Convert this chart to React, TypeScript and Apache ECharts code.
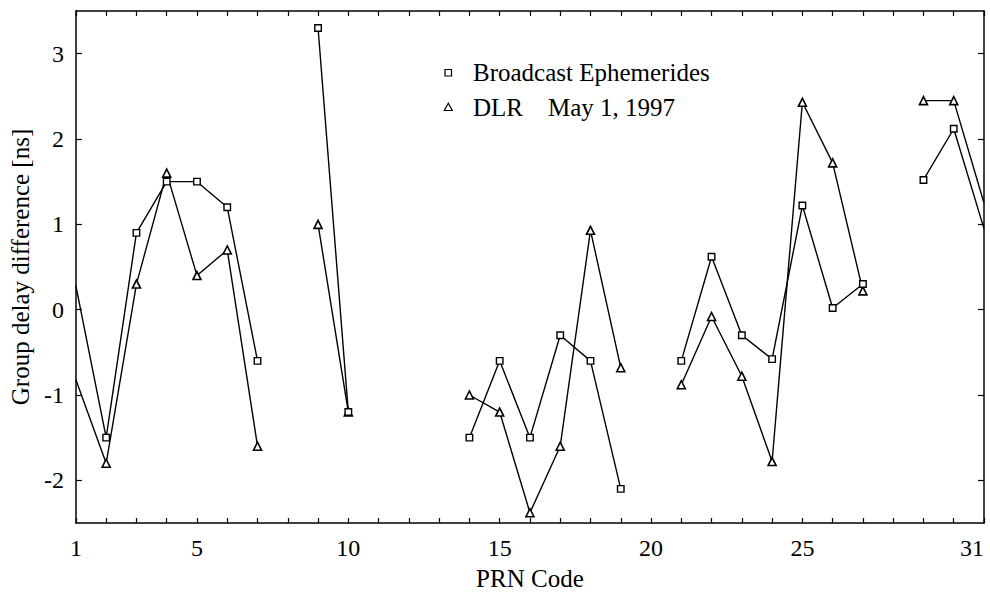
import React, { useEffect, useRef } from "react";
import * as echarts from "echarts";

const FONT = "Liberation Serif, Times New Roman, Times, serif";

// PRN codes 1..31
const prnCodes = [
  1, 2, 3, 4, 5, 6, 7, 8, 9, 10, 11, 12, 13, 14, 15, 16, 17, 18, 19, 20, 21,
  22, 23, 24, 25, 26, 27, 28, 29, 30, 31,
];

// Broadcast Ephemerides (squares)
const broadcast: (number | null)[] = [
  0.28, -1.5, 0.9, 1.5, 1.5, 1.2, -0.6, null, 3.3, -1.2, null, null, null,
  -1.5, -0.6, -1.5, -0.3, -0.6, -2.1, null, -0.6, 0.62, -0.3, -0.58, 1.22,
  0.02, 0.3, null, 1.52, 2.12, 0.95,
];

// DLR May 1, 1997 (triangles)
const dlr: (number | null)[] = [
  -0.82, -1.8, 0.3, 1.6, 0.4, 0.7, -1.6, null, 1.0, -1.2, null, null, null,
  -1.0, -1.2, -2.38, -1.6, 0.93, -0.68, null, -0.88, -0.08, -0.78, -1.78, 2.43,
  1.72, 0.22, null, 2.45, 2.45, 1.25,
];

const xLabelValues = [1, 5, 10, 15, 20, 25, 31];
const yLabelValues = [-2, -1, 0, 1, 2, 3];

const seriesNames = ["Broadcast Ephemerides", "DLR\u00a0\u00a0\u00a0\u00a0May 1, 1997"];

export default function App() {
  const ref = useRef<HTMLDivElement>(null);

  useEffect(() => {
    if (!ref.current) return;
    const chart = echarts.init(ref.current, null, { renderer: "svg" });

    const first = prnCodes[0];
    const last = prnCodes[prnCodes.length - 1];
    const build = (vals: (number | null)[]) =>
      prnCodes.map((x, i) => {
        const v = vals[i];
        if (v === null) return { value: [x, "-"] };
        if (x === first || x === last) return { value: [x, v], symbol: "none" };
        return { value: [x, v] };
      });

    const axisLine = { show: true, onZero: false, lineStyle: { color: "#000", width: 1.5 } };
    const tickStyle = { color: "#000", width: 1.2 };

    chart.setOption({
      animation: false,
      backgroundColor: "#fff",
      textStyle: { fontFamily: FONT },
      grid: { left: 72.5, right: 6, top: 11, bottom: 68, containLabel: false },
      xAxis: [
        {
          type: "value",
          min: 1,
          max: 31,
          interval: 1,
          position: "bottom",
          name: "PRN Code",
          nameLocation: "middle",
          nameGap: 43,
          nameTextStyle: { fontFamily: FONT, fontSize: 25, color: "#000" },
          axisLine,
          axisTick: { show: true, inside: true, length: 5, lineStyle: tickStyle },
          axisLabel: {
            show: true,
            customValues: xLabelValues,
            alignMaxLabel: "right",
            margin: 13,
            fontFamily: FONT,
            fontSize: 24,
            color: "#000",
          },
          splitLine: { show: false },
        },
        {
          type: "value",
          min: 1,
          max: 31,
          interval: 1,
          position: "top",
          axisLine,
          axisTick: { show: true, inside: true, length: 5, lineStyle: tickStyle },
          axisLabel: { show: false },
          splitLine: { show: false },
        },
      ],
      yAxis: [
        {
          type: "value",
          min: -2.5,
          max: 3.5,
          position: "left",
          name: "Group delay difference [ns]",
          nameLocation: "middle",
          nameGap: 39,
          nameRotate: 90,
          nameTextStyle: { fontFamily: FONT, fontSize: 25, color: "#000" },
          axisLine,
          axisTick: {
            show: true,
            inside: true,
            length: 6,
            customValues: yLabelValues,
            lineStyle: tickStyle,
          },
          axisLabel: {
            show: true,
            customValues: yLabelValues,
            margin: 12,
            fontFamily: FONT,
            fontSize: 24,
            color: "#000",
          },
          splitLine: { show: false },
        },
        {
          type: "value",
          min: -2.5,
          max: 3.5,
          position: "right",
          axisLine,
          axisTick: {
            show: true,
            inside: true,
            length: 6,
            customValues: yLabelValues,
            lineStyle: tickStyle,
          },
          axisLabel: { show: false },
          splitLine: { show: false },
        },
      ],
      series: [
        {
          name: seriesNames[0],
          type: "line",
          xAxisIndex: 0,
          yAxisIndex: 0,
          data: build(broadcast),
          connectNulls: false,
          symbol: "rect",
          symbolSize: 6.5,
          showAllSymbol: true,
          lineStyle: { color: "#000", width: 1.4 },
          itemStyle: { color: "#fff", borderColor: "#000", borderWidth: 1.4 },
          z: 3,
        },
        {
          name: seriesNames[1],
          type: "line",
          xAxisIndex: 0,
          yAxisIndex: 0,
          data: build(dlr),
          connectNulls: false,
          symbol: "triangle",
          symbolSize: 8,
          showAllSymbol: true,
          lineStyle: { color: "#000", width: 1.4 },
          itemStyle: { color: "#fff", borderColor: "#000", borderWidth: 1.6 },
          z: 2,
        },
      ],
      graphic: [
        {
          type: "rect",
          shape: { x: 445, y: 69.5, width: 6.5, height: 6.5 },
          style: { fill: "#fff", stroke: "#000", lineWidth: 1.2 },
        },
        {
          type: "polygon",
          shape: { points: [[448.3, 103.3], [444.3, 110.5], [452.3, 110.5]] },
          style: { fill: "#fff", stroke: "#000", lineWidth: 1.2 },
        },
        {
          type: "text",
          x: 473,
          y: 72.7,
          style: {
            text: seriesNames[0],
            fontFamily: FONT,
            fontSize: 25,
            fill: "#000",
            verticalAlign: "middle",
            align: "left",
          },
        },
        {
          type: "text",
          x: 473,
          y: 107.3,
          style: {
            text: seriesNames[1],
            fontFamily: FONT,
            fontSize: 25,
            fill: "#000",
            verticalAlign: "middle",
            align: "left",
          },
        },
      ],
    });

    return () => chart.dispose();
  }, []);

  return (
    <div
      ref={ref}
      style={{ position: "fixed", left: 0, top: 0, width: 990, height: 596, background: "#fff" }}
    />
  );
}
